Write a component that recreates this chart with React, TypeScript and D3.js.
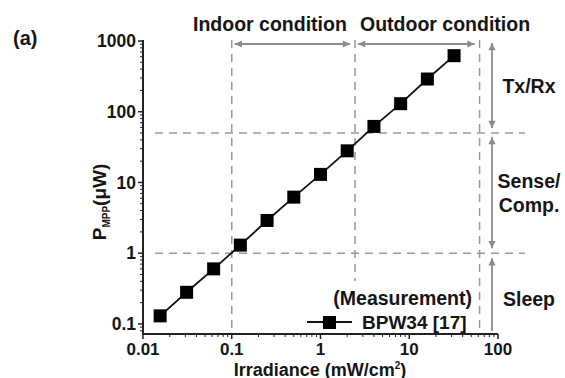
import { useEffect, useRef } from 'react';
import * as d3 from 'd3';

// BPW34 photodiode, maximum power point vs irradiance
const irradiance = [0.0156, 0.031, 0.0625, 0.125, 0.25, 0.5, 1, 2, 4, 8, 16, 32];
const pmpp = [0.13, 0.28, 0.6, 1.3, 2.9, 6.2, 13, 28, 62, 130, 290, 620];

const xTicks = [0.01, 0.1, 1, 10, 100];
const yTicks = [0.1, 1, 10, 100, 1000];
const xTickLabels = ['0.01', '0.1', '1', '10', '100'];
const yTickLabels = ['0.1', '1', '10', '100', '1000'];

// region boundaries
const conditionBounds = [0.1, 2.45, 62];
const conditionLabels = ['Indoor condition', 'Outdoor condition'];
const powerBounds = [1, 50];
const modeLabels = [['Tx/Rx'], ['Sense/', 'Comp.'], ['Sleep']];

const W = 565;
const H = 378;
const FONT = '"Liberation Sans", Arial, sans-serif';
const GRAY = '#8c8c8c';

export default function App() {
  const svgRef = useRef<SVGSVGElement>(null);

  useEffect(() => {
    if (!svgRef.current) return;
    const svg = d3.select(svgRef.current);
    svg.selectAll('*').remove();

    const x = d3.scaleLog().domain([0.01, 100]).range([143, 498]);
    const y = d3.scaleLog().domain([0.072, 1000]).range([334, 41]);
    const [x0, x1] = x.range();
    const [y0, y1] = y.range();

    const defs = svg.append('defs');
    defs.append('marker')
      .attr('id', 'ah')
      .attr('viewBox', '0 0 10 10')
      .attr('refX', 10)
      .attr('refY', 5)
      .attr('markerWidth', 5)
      .attr('markerHeight', 4)
      .attr('markerUnits', 'strokeWidth')
      .attr('orient', 'auto-start-reverse')
      .append('path')
      .attr('d', 'M0,0 L10,5 L0,10 z')
      .attr('fill', GRAY);

    // dashed guide lines
    const hLeft = 155;
    const hRight = 525;
    powerBounds.forEach((p) => {
      svg.append('line')
        .attr('x1', hLeft).attr('x2', hRight)
        .attr('y1', y(p)).attr('y2', y(p))
        .attr('stroke', '#999').attr('stroke-width', 1.5)
        .attr('stroke-dasharray', '8,6');
    });
    conditionBounds.forEach((c) => {
      svg.append('line')
        .attr('x1', x(c)).attr('x2', x(c))
        .attr('y1', 40).attr('y2', y0 - 1)
        .attr('stroke', '#999').attr('stroke-width', 1.5)
        .attr('stroke-dasharray', '8,6');
    });

    // condition arrows + labels
    const arrowY = 44;
    for (let i = 0; i < 2; i++) {
      const a = x(conditionBounds[i]) + 3;
      const b = x(conditionBounds[i + 1]) - 5;
      svg.append('line')
        .attr('x1', a).attr('x2', b)
        .attr('y1', arrowY).attr('y2', arrowY)
        .attr('stroke', GRAY).attr('stroke-width', 1.8)
        .attr('marker-start', 'url(#ah)')
        .attr('marker-end', 'url(#ah)');
    }
    svg.append('text')
      .attr('x', 193).attr('y', 31)
      .style('font-family', FONT).style('font-size', '19.5px').style('font-weight', 700)
      .style('fill', '#151515')
      .text(conditionLabels[0]);
    svg.append('text')
      .attr('x', 360).attr('y', 31)
      .style('font-family', FONT).style('font-size', '19.5px').style('font-weight', 700)
      .style('fill', '#151515')
      .text(conditionLabels[1]);

    // mode arrows
    const ax = 492;
    const segs = [
      [43, y(powerBounds[1]) - 5, true],
      [y(powerBounds[1]) + 4, y(powerBounds[0]) - 5, true],
      [y(powerBounds[0]) + 5, y0 - 3, false],
    ] as [number, number, boolean][];
    segs.forEach(([a, b, both]) => {
      const l = svg.append('line')
        .attr('x1', ax).attr('x2', ax)
        .attr('y1', a).attr('y2', b)
        .attr('stroke', GRAY).attr('stroke-width', 1.8)
        .attr('marker-start', 'url(#ah)');
      if (both) l.attr('marker-end', 'url(#ah)');
    });
    const modeY = [[93], [188, 212], [306]];
    modeLabels.forEach((lines, i) => {
      lines.forEach((t, j) => {
        svg.append('text')
          .attr('x', 529).attr('y', modeY[i][j])
          .attr('text-anchor', 'middle')
          .style('font-family', FONT).style('font-size', '19.5px').style('font-weight', 700)
          .style('fill', '#151515')
          .text(t);
      });
    });

    // legend (white box hides the dashed line behind it)
    svg.append('rect')
      .attr('x', 300).attr('y', 281).attr('width', 174).attr('height', 51)
      .attr('fill', '#fff');
    svg.append('text')
      .attr('x', 472).attr('y', 305)
      .attr('text-anchor', 'end')
      .style('font-family', FONT).style('font-size', '19.5px').style('font-weight', 700)
      .style('fill', '#151515')
      .text('(Measurement)');
    svg.append('line')
      .attr('x1', 307).attr('x2', 352).attr('y1', 322).attr('y2', 322)
      .attr('stroke', '#111').attr('stroke-width', 2);
    svg.append('rect')
      .attr('x', 323).attr('y', 316).attr('width', 13).attr('height', 13)
      .attr('fill', '#000');
    svg.append('text')
      .attr('x', 362).attr('y', 329)
      .style('font-family', FONT).style('font-size', '19px').style('font-weight', 700)
      .style('fill', '#151515')
      .text('BPW34 [17]');

    // axes
    const axisG = svg.append('g').attr('stroke', '#222');
    axisG.append('line').attr('x1', x0).attr('x2', x0).attr('y1', y1 - 1).attr('y2', y0).attr('stroke-width', 2);
    axisG.append('line').attr('x1', x0).attr('x2', x1).attr('y1', y0).attr('y2', y0).attr('stroke-width', 2);

    const minorX: number[] = [];
    for (let e = -2; e < 2; e++) for (let k = 2; k < 10; k++) minorX.push(k * Math.pow(10, e));
    const minorY: number[] = [];
    for (let e = -2; e < 3; e++) for (let k = 2; k < 10; k++) {
      const v = k * Math.pow(10, e);
      if (v >= 0.072 && v < 1000) minorY.push(v);
    }
    minorX.forEach((v) => {
      axisG.append('line').attr('x1', x(v)).attr('x2', x(v)).attr('y1', y0).attr('y2', y0 + 3).attr('stroke-width', 1);
    });
    xTicks.forEach((v) => {
      axisG.append('line').attr('x1', x(v)).attr('x2', x(v)).attr('y1', y0).attr('y2', y0 + 5).attr('stroke-width', 1.5);
    });
    minorY.forEach((v) => {
      axisG.append('line').attr('x1', x0 - 3).attr('x2', x0).attr('y1', y(v)).attr('y2', y(v)).attr('stroke-width', 1);
    });
    yTicks.forEach((v) => {
      axisG.append('line').attr('x1', x0 - 5).attr('x2', x0).attr('y1', y(v)).attr('y2', y(v)).attr('stroke-width', 1.5);
    });

    xTicks.forEach((v, i) => {
      svg.append('text')
        .attr('x', x(v)).attr('y', 355)
        .attr('text-anchor', 'middle')
        .style('font-family', FONT).style('font-size', '17px').style('font-weight', 700)
        .style('fill', '#151515')
        .text(xTickLabels[i]);
    });
    yTicks.forEach((v, i) => {
      svg.append('text')
        .attr('x', 136).attr('y', y(v))
        .attr('dy', '0.36em')
        .attr('text-anchor', 'end')
        .style('font-family', FONT).style('font-size', '17.5px').style('font-weight', 700)
        .style('fill', '#151515')
        .text(yTickLabels[i]);
    });

    // axis titles
    svg.append('text')
      .attr('x', 320).attr('y', 375.5)
      .attr('text-anchor', 'middle')
      .style('font-family', FONT).style('font-size', '18px').style('font-weight', 700)
      .style('fill', '#151515')
      .call((t) => {
        t.append('tspan').text('Irradiance (mW/cm');
        t.append('tspan').attr('dy', -7).style('font-size', '10px').text('2');
        t.append('tspan').attr('dy', 7).text(')');
      });

    const yl = svg.append('text')
      .attr('transform', 'translate(106,202) rotate(-90)')
      .attr('text-anchor', 'middle')
      .style('font-family', FONT).style('font-size', '19px').style('font-weight', 700)
      .style('fill', '#151515');
    yl.append('tspan').text('P');
    yl.append('tspan').attr('dy', 4).style('font-size', '10px').text('MPP');
    yl.append('tspan').attr('dy', -4).text('(μW)');

    svg.append('text')
      .attr('x', 13).attr('y', 45)
      .style('font-family', FONT).style('font-size', '20px').style('font-weight', 700)
      .style('fill', '#151515')
      .text('(a)');

    // data
    const pts = irradiance.map((v, i) => [x(v), y(pmpp[i])] as [number, number]);
    svg.append('path')
      .attr('d', d3.line()(pts) ?? '')
      .attr('fill', 'none')
      .attr('stroke', '#111')
      .attr('stroke-width', 1.8);
    svg.selectAll('rect.pt')
      .data(pts)
      .enter()
      .append('rect')
      .attr('class', 'pt')
      .attr('x', (d) => d[0] - 6.5)
      .attr('y', (d) => d[1] - 6.5)
      .attr('width', 13)
      .attr('height', 13)
      .attr('fill', '#000');
  }, []);

  return (
    <div style={{ position: 'absolute', left: 0, top: 0 }}>
      <svg ref={svgRef} width={W} height={H} style={{ display: 'block', background: '#fff' }} />
    </div>
  );
}
